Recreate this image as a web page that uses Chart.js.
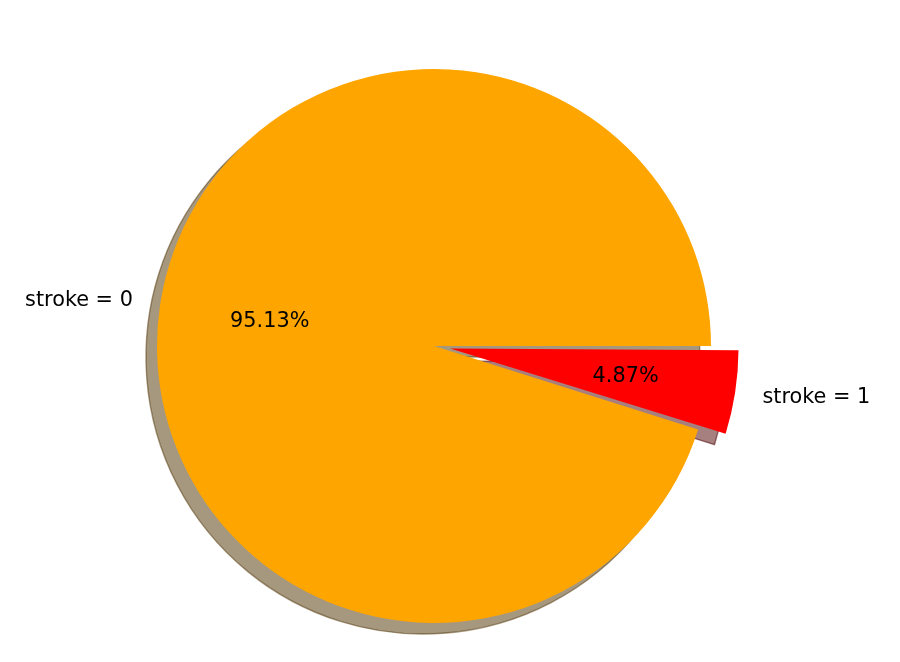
<!DOCTYPE html>
<html>
<head>
<meta charset="utf-8">
<script src="https://cdn.jsdelivr.net/npm/chart.js@4"></script>
<style>
  body { margin: 0; background: #fff; }
  #wrap { width: 900px; height: 662px; }
</style>
</head>
<body>
<div id="wrap"><canvas id="pie" width="900" height="662"></canvas></div>
<script>
const categories = ['stroke = 0', 'stroke = 1'];
const counts = [4861, 249];
const colors = ['#ffa500', '#ff0000'];
const explode = [0, 0.1];

const total = counts.reduce((a, b) => a + b, 0);
const R = 277;
const shadowDx = -11, shadowDy = 11;

// matplotlib starts at 3 o'clock going counter-clockwise; chart.js goes clockwise
const rotation = 90 + 360 * (1 - counts[0] / total);

// chart.js moves an arc by offset/4 * (1 + fix), see ArcElement.draw
function arcOffset(i) {
  const circ = 2 * Math.PI * counts[i] / total;
  const fix = 1 - Math.sin(Math.min(Math.PI, circ));
  return explode[i] * R * 4 / (1 + fix);
}

function wedgeCenter(arc, i) {
  const mid = (arc.startAngle + arc.endAngle) / 2;
  const s = explode[i] * R;
  return { x: arc.x + Math.cos(mid) * s, y: arc.y + Math.sin(mid) * s, mid };
}

function shade(hex) {
  const n = parseInt(hex.slice(1), 16);
  const r = Math.round(((n >> 16) & 255) * 0.3);
  const g = Math.round(((n >> 8) & 255) * 0.3);
  const b = Math.round((n & 255) * 0.3);
  return `rgba(${r},${g},${b},0.5)`;
}

const shadowPlugin = {
  id: 'shadow',
  beforeDatasetsDraw(chart) {
    const ctx = chart.ctx;
    chart.getDatasetMeta(0).data.forEach((arc, i) => {
      const c = wedgeCenter(arc, i);
      const x = c.x + shadowDx, y = c.y + shadowDy;
      ctx.save();
      ctx.beginPath();
      ctx.moveTo(x, y);
      ctx.arc(x, y, arc.outerRadius, arc.startAngle, arc.endAngle);
      ctx.closePath();
      ctx.fillStyle = shade(colors[i]);
      ctx.fill();
      ctx.lineWidth = 1.4;
      ctx.strokeStyle = shade(colors[i]);
      ctx.stroke();
      ctx.restore();
    });
  }
};

const labelPlugin = {
  id: 'pieLabels',
  afterDatasetsDraw(chart) {
    const ctx = chart.ctx;
    ctx.save();
    ctx.font = '20.8px "DejaVu Sans"';
    ctx.fillStyle = '#000';
    ctx.textBaseline = 'middle';
    chart.getDatasetMeta(0).data.forEach((arc, i) => {
      const c = wedgeCenter(arc, i);
      const r = arc.outerRadius;
      const pct = (counts[i] / total * 100).toFixed(2) + '%';
      ctx.textAlign = 'center';
      ctx.fillText(pct, c.x + Math.cos(c.mid) * r * 0.6, c.y + Math.sin(c.mid) * r * 0.6 + 1);
      ctx.textAlign = Math.cos(c.mid) >= 0 ? 'left' : 'right';
      ctx.fillText(categories[i], c.x + Math.cos(c.mid) * r * 1.1, c.y + Math.sin(c.mid) * r * 1.1 + 1);
    });
    ctx.restore();
  }
};

new Chart(document.getElementById('pie'), {
  type: 'pie',
  data: {
    labels: categories,
    datasets: [{
      data: counts,
      backgroundColor: colors,
      borderWidth: 0,
      offset: counts.map((v, i) => arcOffset(i))
    }]
  },
  options: {
    responsive: false,
    animation: false,
    rotation: rotation,
    radius: R,
    layout: { padding: { left: 0, right: 32, top: 30, bottom: 0 } },
    plugins: {
      legend: { display: false },
      tooltip: { enabled: false }
    }
  },
  plugins: [shadowPlugin, labelPlugin]
});
</script>
</body>
</html>
